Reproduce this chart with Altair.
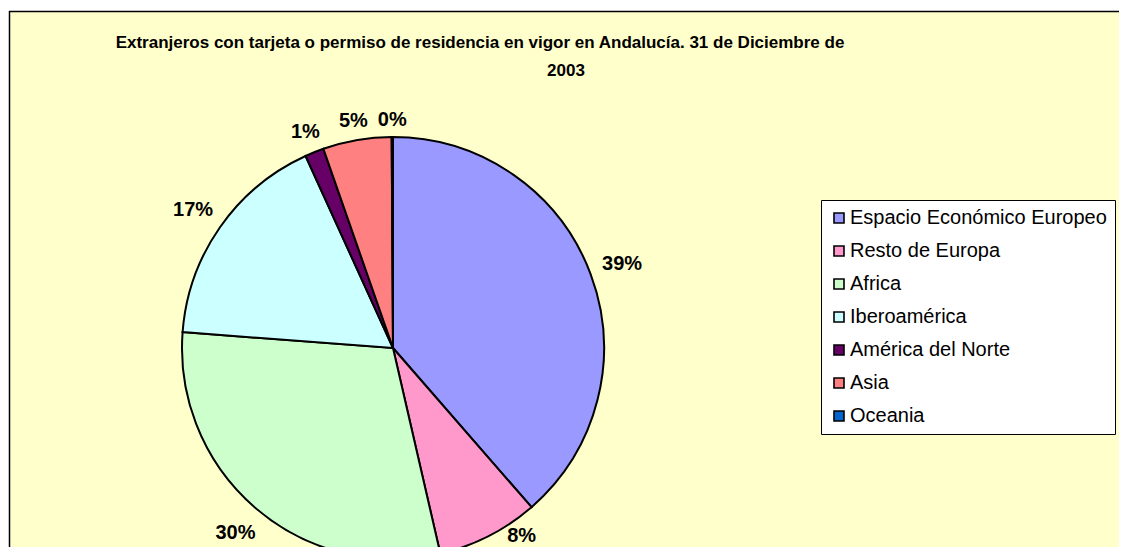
import altair as alt
import pandas as pd

# ---- data ----
categories = ["Espacio Económico Europeo", "Resto de Europa", "Africa", "Iberoamérica",
              "América del Norte", "Asia", "Oceania"]
values = [38.6, 7.8, 29.8, 17.0, 1.45, 5.25, 0.1]
colors = ["#9999FF", "#FF99CC", "#CCFFCC", "#CCFFFF", "#660066", "#FF8080", "#0066CC"]
title_lines = ["Extranjeros con tarjeta o permiso de residencia en vigor en Andalucía. 31 de Diciembre de",
               "2003"]

FONT = "Liberation Sans"
CX, CY, R = 384, 337, 211

df = pd.DataFrame({"category": categories, "value": values, "order": list(range(len(categories)))})
base = alt.Chart(df)

pie = base.mark_arc(radius=R, stroke="black", strokeWidth=2).encode(
    theta=alt.Theta("value:Q", stack=True),
    order=alt.Order("order:Q"),
    color=alt.Color(
        "category:N",
        sort=categories,
        scale=alt.Scale(domain=categories, range=colors),
        legend=alt.Legend(
            title=None, orient="none", legendX=812, legendY=189,
            symbolType="square", symbolSize=100, symbolStrokeColor="black",
            symbolStrokeWidth=1.6, labelFont=FONT, labelFontSize=20, labelColor="black",
            rowPadding=13, labelOffset=1, padding=8, fillColor="white",
            strokeColor="black", labelLimit=500,
        ),
    ),
    x=alt.value(CX),
    y=alt.value(CY),
)

labels = (
    base.transform_joinaggregate(total="sum(value)")
    .transform_window(cum="sum(value)", sort=[alt.SortField("order")], frame=[None, 0])
    .transform_calculate(
        mid="(datum.cum - datum.value/2) / datum.total * 2 * PI",
        lbl="format(datum.value / datum.total, '.0%')",
    )
    .transform_calculate(
        w="11 * length(datum.lbl) + 8",
        s="sin(datum.mid)",
        c="cos(datum.mid)",
    )
    .transform_calculate(lr="223 + abs(datum.s) * datum.w / 2 + abs(datum.c) * 7")
    .transform_calculate(ly0="-datum.lr * datum.c")
    .transform_calculate(
        ly="min(datum.ly0, 186)",
        lx="datum.ly0 > 186 ? (datum.s >= 0 ? 1 : -1) * (sqrt(218*218 - 186*186) + datum.w/2) : datum.lr * datum.s",
    )
    .transform_calculate(px=f"{CX} + datum.lx", py=f"{CY} + datum.ly")
    .mark_text(font=FONT, fontSize=20, fontWeight="bold", color="black", dy=2)
    .encode(
        x=alt.X("px:Q", scale=None),
        y=alt.Y("py:Q", scale=None),
        text="lbl:N",
    )
)

t1 = alt.Chart(pd.DataFrame({"t": [title_lines[0]]})).mark_text(
    font=FONT, fontSize=17, fontWeight="bold", color="black", baseline="alphabetic", align="center"
).encode(x=alt.value(471), y=alt.value(37), text="t:N")
t2 = alt.Chart(pd.DataFrame({"t": [title_lines[1]]})).mark_text(
    font=FONT, fontSize=17, fontWeight="bold", color="black", baseline="alphabetic", align="center"
).encode(x=alt.value(557), y=alt.value(65), text="t:N")

border_top = alt.Chart(pd.DataFrame({"a": [0]})).mark_rule(color="black", strokeWidth=1.5).encode(
    x=alt.value(0), x2=alt.value(1120), y=alt.value(0.5)
)
border_left = alt.Chart(pd.DataFrame({"a": [0]})).mark_rule(color="black", strokeWidth=1.5).encode(
    x=alt.value(0.5), y=alt.value(0), y2=alt.value(550)
)

chart = (
    alt.layer(pie, labels, t1, t2, border_top, border_left)
    .properties(
        width=1110, height=536, autosize="none",
        padding={"left": 1, "top": 3, "right": 0, "bottom": 0},
        background="white",
    )
    .configure_view(stroke="transparent", strokeWidth=0, fill="#FFFFCC")
)

chart.save("out.html", embed_options={"renderer": "svg", "actions": False})
